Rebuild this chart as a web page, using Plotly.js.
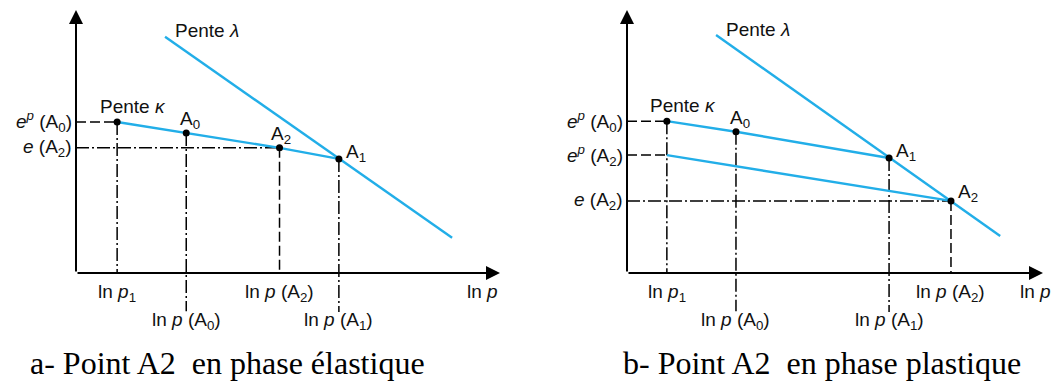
<!DOCTYPE html>
<html>
<head>
<meta charset="utf-8">
<script src="https://cdn.plot.ly/plotly-3.0.1.min.js"></script>
<style>
  html, body { margin: 0; padding: 0; background: #fff; }
  #chart { width: 1061px; height: 387px; }
</style>
</head>
<body>
<div id="chart"></div>
<script>
// Panel a: point A2 in the elastic phase (ln p, e)
const lnpA = { p1: 0.97, A0: 2.60, A2: 4.80, A1: 6.20 };
const eA = { p1: 3.56, A0: 3.30, A2: 2.95, A1: 2.69 };
const lambdaA_lnp = [2.10, 8.87];
const lambdaA_e = [5.57, 0.83];

// Panel b: point A2 in the plastic phase (ln p, e)
const lnpB = { p1: 0.94, A0: 2.57, A1: 6.18, A2: 7.64 };
const eB = { p1: 3.58, A0: 3.33, A1: 2.71, A2: 1.70 };
const epA2_B = 2.78;            // e^p(A2): start of the second unloading line
const lambdaB_lnp = [2.10, 8.80];
const lambdaB_e = [5.61, 0.87];

// Axis extents
const xMaxA = 10.0, xMaxB = 9.81, yMax = 6.2, yMin = -1.344;

const BLUE = '#22aee8';
const DASH = '10px,4px';
const DASHDOT = '13px,3px,2px,3px';
const LABEL_FONT = { family: 'Liberation Sans, Arial, sans-serif', size: 19, color: '#111' };

const traces = [];
function line(ax, xs, ys, color, width, dash) {
  traces.push({
    type: 'scatter', mode: 'lines', x: xs, y: ys,
    xaxis: ax === 1 ? 'x' : 'x2', yaxis: ax === 1 ? 'y' : 'y2',
    line: { color: color, width: width, dash: dash || 'solid' },
    hoverinfo: 'skip', showlegend: false
  });
}
function dots(ax, xs, ys) {
  traces.push({
    type: 'scatter', mode: 'markers', x: xs, y: ys,
    xaxis: ax === 1 ? 'x' : 'x2', yaxis: ax === 1 ? 'y' : 'y2',
    marker: { color: '#000', size: 7 },
    hoverinfo: 'skip', showlegend: false
  });
}

// ---- Panel a ----
// guide lines
line(1, [0, lnpA.p1], [eA.p1, eA.p1], '#000', 1.5, DASH);
line(1, [0, lnpA.A2], [eA.A2, eA.A2], '#000', 1.5, DASHDOT);
line(1, [lnpA.p1, lnpA.p1], [eA.p1, 0], '#000', 1.5, DASHDOT);
line(1, [lnpA.A0, lnpA.A0], [eA.A0, -0.9], '#000', 1.5, DASHDOT);
line(1, [lnpA.A2, lnpA.A2], [eA.A2, 0], '#000', 1.5, DASH);
line(1, [lnpA.A1, lnpA.A1], [eA.A1, -0.92], '#000', 1.5, DASHDOT);
// slope lines
line(1, lambdaA_lnp, lambdaA_e, BLUE, 2.4);
line(1, [lnpA.p1, lnpA.A0, lnpA.A2, lnpA.A1], [eA.p1, eA.A0, eA.A2, eA.A1], BLUE, 2.4);
dots(1, [lnpA.p1, lnpA.A0, lnpA.A2, lnpA.A1], [eA.p1, eA.A0, eA.A2, eA.A1]);

// ---- Panel b ----
line(2, [0, lnpB.p1], [eB.p1, eB.p1], '#000', 1.5, DASH);
line(2, [0, lnpB.p1], [epA2_B, epA2_B], '#000', 1.5, DASH);
line(2, [0, lnpB.A2], [eB.A2, eB.A2], '#000', 1.5, DASHDOT);
line(2, [lnpB.p1, lnpB.p1], [eB.p1, 0], '#000', 1.5, DASHDOT);
line(2, [lnpB.A0, lnpB.A0], [eB.A0, -0.9], '#000', 1.5, DASHDOT);
line(2, [lnpB.A1, lnpB.A1], [eB.A1, -0.92], '#000', 1.5, DASHDOT);
line(2, [lnpB.A2, lnpB.A2], [eB.A2, 0], '#000', 1.5, DASH);
line(2, lambdaB_lnp, lambdaB_e, BLUE, 2.4);
line(2, [lnpB.p1, lnpB.A0, lnpB.A1], [eB.p1, eB.A0, eB.A1], BLUE, 2.4);
line(2, [lnpB.p1, lnpB.A2], [epA2_B, eB.A2], BLUE, 2.4);
dots(2, [lnpB.p1, lnpB.A0, lnpB.A1, lnpB.A2], [eB.p1, eB.A0, eB.A1, eB.A2]);

// ---- Annotations ----
const ann = [];
function arrow(ax, x, y) {
  const xr = ax === 1 ? 'x' : 'x2', yr = ax === 1 ? 'y' : 'y2';
  ann.push({ xref: xr, yref: yr, axref: xr, ayref: yr, x: x, y: y, ax: 0, ay: 0,
    text: '', showarrow: true, arrowhead: 2, arrowsize: 1.4, arrowwidth: 2, arrowcolor: '#000' });
}
function label(ax, x, y, text, opts) {
  ann.push(Object.assign({
    xref: ax === 1 ? 'x' : 'x2', yref: ax === 1 ? 'y' : 'y2',
    x: x, y: y, text: text, showarrow: false, font: LABEL_FONT
  }, opts));
}

arrow(1, xMaxA, 0); arrow(1, 0, yMax);
arrow(2, xMaxB, 0); arrow(2, 0, yMax);

const lnp = 'ln <i>p</i>';
// panel a labels
label(1, 0, eA.p1, '<i>e</i><sup><i>p</i></sup> (A<sub>0</sub>)', { xanchor: 'right', xshift: -2 });
label(1, 0, eA.A2, '<i>e</i> (A<sub>2</sub>)', { xanchor: 'right', xshift: -2 });
label(1, lnpA.p1, 0, lnp + '<sub>1</sub>', { yanchor: 'top', yshift: -6 });
label(1, lnpA.A0, 0, lnp + ' (A<sub>0</sub>)', { yanchor: 'top', yshift: -34 });
label(1, lnpA.A2, 0, lnp + ' (A<sub>2</sub>)', { yanchor: 'top', yshift: -6 });
label(1, lnpA.A1, 0, lnp + ' (A<sub>1</sub>)', { yanchor: 'top', yshift: -34 });
label(1, xMaxA, 0, lnp, { xanchor: 'right', yanchor: 'top', yshift: -6 });
label(1, lnpA.p1, eA.p1, 'Pente <i>κ</i>', { xanchor: 'left', xshift: -19, yanchor: 'bottom', yshift: 3 });
label(1, lnpA.A0, eA.A0, 'A<sub>0</sub>', { xanchor: 'left', xshift: -8, yanchor: 'bottom', yshift: -1 });
label(1, lnpA.A2, eA.A2, 'A<sub>2</sub>', { xanchor: 'left', xshift: -11, yanchor: 'bottom', yshift: -1 });
label(1, lnpA.A1, eA.A1, 'A<sub>1</sub>', { xanchor: 'left', xshift: 5, yshift: 6 });
label(1, lambdaA_lnp[0], lambdaA_e[0], 'Pente <i>λ</i>', { xanchor: 'left', xshift: 8, yshift: 6 });

// panel b labels
label(2, 0, eB.p1, '<i>e</i><sup><i>p</i></sup> (A<sub>0</sub>)', { xanchor: 'right', xshift: -2 });
label(2, 0, epA2_B, '<i>e</i><sup><i>p</i></sup> (A<sub>2</sub>)', { xanchor: 'right', xshift: -2 });
label(2, 0, eB.A2, '<i>e</i> (A<sub>2</sub>)', { xanchor: 'right', xshift: -2 });
label(2, lnpB.p1, 0, lnp + '<sub>1</sub>', { yanchor: 'top', yshift: -6 });
label(2, lnpB.A0, 0, lnp + ' (A<sub>0</sub>)', { yanchor: 'top', yshift: -34 });
label(2, lnpB.A1, 0, lnp + ' (A<sub>1</sub>)', { yanchor: 'top', yshift: -34 });
label(2, lnpB.A2, 0, lnp + ' (A<sub>2</sub>)', { yanchor: 'top', yshift: -6 });
label(2, xMaxB, 0, lnp, { xanchor: 'right', xshift: 10, yanchor: 'top', yshift: -6 });
label(2, lnpB.p1, eB.p1, 'Pente <i>κ</i>', { xanchor: 'left', xshift: -19, yanchor: 'bottom', yshift: 3 });
label(2, lnpB.A0, eB.A0, 'A<sub>0</sub>', { xanchor: 'left', xshift: -8, yanchor: 'bottom', yshift: -1 });
label(2, lnpB.A1, eB.A1, 'A<sub>1</sub>', { xanchor: 'left', xshift: 5, yshift: 6 });
label(2, lnpB.A2, eB.A2, 'A<sub>2</sub>', { xanchor: 'left', xshift: 5, yshift: 8 });
label(2, lambdaB_lnp[0], lambdaB_e[0], 'Pente <i>λ</i>', { xanchor: 'left', xshift: 8, yshift: 6 });

// captions
const CAP_FONT = { family: 'Liberation Serif, Times New Roman, serif', size: 32, color: '#000' };
ann.push({ xref: 'paper', yref: 'paper', x: 227 / 1061, y: (387 - 363) / 387, xanchor: 'center', yanchor: 'middle',
  text: 'a- Point A2\u00a0 en phase élastique', showarrow: false, font: CAP_FONT });
ann.push({ xref: 'paper', yref: 'paper', x: 822 / 1061, y: (387 - 363) / 387, xanchor: 'center', yanchor: 'middle',
  text: 'b- Point A2\u00a0 en phase plastique', showarrow: false, font: CAP_FONT });

const hidden = { visible: false, fixedrange: true };
const yDomain = [57 / 387, 377 / 387];
const layout = {
  width: 1061, height: 387,
  margin: { l: 0, r: 0, t: 0, b: 0 },
  paper_bgcolor: '#fff', plot_bgcolor: 'rgba(0,0,0,0)',
  showlegend: false,
  xaxis: Object.assign({ domain: [76 / 1061, 500 / 1061], range: [0, xMaxA], anchor: 'y' }, hidden),
  yaxis: Object.assign({ domain: yDomain, range: [yMin, yMax], anchor: 'x' }, hidden),
  xaxis2: Object.assign({ domain: [627 / 1061, 1043 / 1061], range: [0, xMaxB], anchor: 'y2' }, hidden),
  yaxis2: Object.assign({ domain: yDomain, range: [yMin, yMax], anchor: 'x2' }, hidden),
  annotations: ann
};

Plotly.newPlot('chart', traces, layout, { staticPlot: true, displayModeBar: false });
</script>
</body>
</html>
